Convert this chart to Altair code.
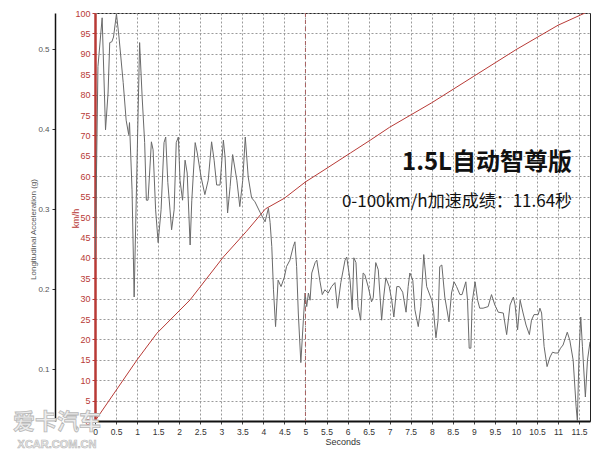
import altair as alt
import pandas as pd

# ---- data ----
t_acc = [0.0, 0.03, 0.07, 0.17, 0.25, 0.31, 0.35, 0.40, 0.44, 0.51, 0.57, 0.67, 0.74, 0.80, 0.82, 0.88, 0.93,
         1.00, 1.06, 1.12, 1.18, 1.22, 1.26, 1.34, 1.38, 1.44, 1.50, 1.57, 1.64, 1.68, 1.73, 1.82, 1.88, 1.93, 1.98,
         2.02, 2.08, 2.14, 2.19, 2.26, 2.30, 2.38, 2.43, 2.52, 2.61, 2.69, 2.77, 2.83, 2.89, 2.97,
         3.05, 3.09, 3.15, 3.21, 3.27, 3.37, 3.44, 3.51, 3.57, 3.64, 3.72, 3.80, 3.92,
         4.04, 4.12, 4.16, 4.20, 4.24, 4.29, 4.35, 4.42, 4.50, 4.55, 4.63, 4.71, 4.75, 4.79, 4.83, 4.89, 4.95, 4.99,
         5.03, 5.07, 5.11, 5.15, 5.23, 5.27, 5.34, 5.40, 5.46, 5.54, 5.62, 5.70, 5.76, 5.84, 5.94, 5.98,
         6.06, 6.11, 6.15, 6.20, 6.25, 6.31, 6.37, 6.41, 6.49, 6.57, 6.61, 6.67, 6.73, 6.81, 6.85, 6.91, 6.99,
         7.05, 7.10, 7.17, 7.23, 7.31, 7.39, 7.44, 7.48, 7.55, 7.60, 7.68, 7.74, 7.81, 7.88,
         8.00, 8.04, 8.10, 8.15, 8.19, 8.24, 8.31, 8.41, 8.47, 8.53, 8.59, 8.67, 8.72, 8.81, 8.85, 8.89, 8.93, 8.96,
         9.03, 9.09, 9.14, 9.22, 9.34, 9.42, 9.50, 9.58, 9.70, 9.78, 9.86, 9.94, 9.98,
         10.04, 10.10, 10.17, 10.24, 10.32, 10.37, 10.43, 10.53, 10.57, 10.61, 10.67, 10.74, 10.81, 10.87, 10.93,
         11.00, 11.06, 11.12, 11.22, 11.28, 11.36, 11.43, 11.46, 11.50, 11.54, 11.58, 11.65, 11.70, 11.76]
g_acc = [0.236, 0.324, 0.478, 0.539, 0.399, 0.445, 0.508, 0.509, 0.515, 0.544, 0.515, 0.458, 0.411, 0.393, 0.408, 0.324, 0.19,
         0.361, 0.508, 0.44, 0.383, 0.311, 0.311, 0.384, 0.374, 0.299, 0.258, 0.299, 0.383, 0.39, 0.333, 0.274, 0.299, 0.383, 0.39,
         0.336, 0.311, 0.361, 0.345, 0.255, 0.311, 0.383, 0.37, 0.34, 0.318, 0.336, 0.384, 0.361, 0.33, 0.33,
         0.386, 0.365, 0.295, 0.328, 0.368, 0.336, 0.303, 0.336, 0.39, 0.34, 0.314, 0.309, 0.296,
         0.284, 0.301, 0.283, 0.253, 0.199, 0.153, 0.211, 0.203, 0.215, 0.228, 0.236, 0.253, 0.259, 0.228, 0.17, 0.108, 0.161, 0.195,
         0.178, 0.195, 0.186, 0.22, 0.233, 0.236, 0.211, 0.193, 0.199, 0.195, 0.203, 0.208, 0.176, 0.208, 0.236, 0.24,
         0.211, 0.174, 0.239, 0.233, 0.178, 0.161, 0.22, 0.218, 0.203, 0.184, 0.189, 0.233, 0.224, 0.161, 0.186, 0.214, 0.203,
         0.186, 0.165, 0.203, 0.203, 0.196, 0.171, 0.203, 0.22, 0.211, 0.174, 0.153, 0.178, 0.243, 0.203,
         0.186, 0.174, 0.139, 0.161, 0.228, 0.23, 0.19, 0.159, 0.195, 0.209, 0.203, 0.193, 0.193, 0.209, 0.186, 0.126, 0.126, 0.183,
         0.209, 0.186, 0.176, 0.176, 0.178, 0.193, 0.18, 0.171, 0.17, 0.143, 0.18, 0.19, 0.18,
         0.149, 0.186, 0.17, 0.155, 0.143, 0.161, 0.168, 0.168, 0.176, 0.17, 0.128, 0.103, 0.115, 0.121, 0.12,
         0.12, 0.126, 0.13, 0.146, 0.136, 0.111, 0.053, 0.035, 0.12, 0.165, 0.128, 0.065, 0.111, 0.134]

t_spd = [0.0, 1.0, 1.47, 2.26, 3.05, 3.6, 4.05, 4.5, 5.0, 5.44, 6.07, 6.55,
         7.0, 8.0, 9.0, 10.0, 10.5, 11.0, 11.64]
v_spd = [0.0, 15.0, 21.5, 29.7, 40.2, 46.5, 52.0, 54.6, 58.6, 61.5, 65.7, 68.9,
         72.0, 78.0, 84.5, 91.0, 94.0, 97.0, 100.0]

x_ticks = [0, 0.5, 1, 1.5, 2, 2.5, 3, 3.5, 4, 4.5, 5, 5.5, 6, 6.5, 7, 7.5, 8, 8.5, 9, 9.5, 10, 10.5, 11, 11.5]
kmh_ticks = [0, 5, 10, 15, 20, 25, 30, 35, 40, 45, 50, 55, 60, 65, 70, 75, 80, 85, 90, 95, 100]
g_ticks = [0.1, 0.2, 0.3, 0.4, 0.5]
marker_t = [5]

title_main = "1.5L自动智尊版"
title_sub = "0-100km/h加速成绩：11.64秒"
wm1 = "爱卡汽车"
wm2 = "XCAR.COM.CN"

RED = "#b83a36"
FONT = "Liberation Sans"
CJK = "Noto Sans CJK SC"

df_acc = pd.DataFrame({"t": t_acc, "g": g_acc})
df_spd = pd.DataFrame({"t": t_spd, "v": v_spd})

xs = alt.Scale(domain=[0, 11.76], nice=False, zero=False)
x_axis = alt.Axis(values=x_ticks, format="~g", title="Seconds", grid=True,
                  gridDash=[2, 2], gridColor="#9a9a9a", gridWidth=1,
                  domainColor="#111", domainWidth=2, tickColor="#444", tickSize=3,
                  labelFont=FONT, labelFontSize=8.5, labelColor="#333", labelPadding=3,
                  labelOverlap=False, labelFlush=False, labelSeparation=0,
                  titleFont=FONT, titleFontSize=9, titleFontWeight="normal",
                  titleColor="#333", titlePadding=2)
x_enc = alt.X("t:Q", scale=xs, axis=x_axis)

speed = alt.Chart(df_spd).mark_line(color=RED, strokeWidth=1, clip=True).encode(
    x=x_enc,
    y=alt.Y("v:Q", scale=alt.Scale(domain=[0, 100], nice=False, zero=False),
            axis=alt.Axis(orient="left", values=kmh_ticks, title="km/h", grid=True,
                          gridDash=[2, 2], gridColor="#9a9a9a", gridWidth=1,
                          domainColor=RED, domainWidth=2.5, tickColor=RED, tickSize=3,
                          labelFont=FONT, labelFontSize=9, labelColor=RED, labelPadding=2,
                          labelOverlap=False,
                          titleFont=FONT, titleFontSize=9, titleFontWeight="normal",
                          titleColor=RED, titleX=-15, titleY=205, titleAngle=270,
                          titleAlign="center", titleBaseline="bottom"))
)

accel = alt.Chart(df_acc).mark_line(color="#6a6a6a", strokeWidth=1, clip=True).encode(
    x=x_enc,
    y=alt.Y("g:Q", scale=alt.Scale(domain=[0.035, 0.545], nice=False, zero=False),
            axis=alt.Axis(orient="left", offset=40, values=g_ticks, format="~g",
                          title="Longitudinal Acceleration (g)", grid=False,
                          domainColor="#111", domainWidth=1.5, tickColor="#333", tickSize=3,
                          labelFont=FONT, labelFontSize=8, labelColor="#555", labelPadding=3,
                          titleFont=FONT, titleFontSize=8, titleFontWeight="normal",
                          titleColor="#555", titleX=-18, titleY=216, titleAngle=270,
                          titleAlign="center", titleBaseline="bottom"))
)

marker = alt.Chart(pd.DataFrame({"t": marker_t})).mark_rule(
    color="#a86060", strokeDash=[4, 3], strokeWidth=1).encode(x=x_enc)

txt1 = alt.Chart(pd.DataFrame({"s": [title_main]})).mark_text(
    font=CJK, fontSize=24, fontWeight="bold", color="#111", align="center", baseline="middle"
).encode(text="s:N", x=alt.value(392), y=alt.value(150))

txt2 = alt.Chart(pd.DataFrame({"s": [title_sub]})).mark_text(
    font=CJK, fontSize=17, color="#111", align="center", baseline="middle"
).encode(text="s:N", x=alt.value(362), y=alt.value(189))

wmA = alt.Chart(pd.DataFrame({"s": [wm1]})).mark_text(
    font=CJK, fontSize=22, fontWeight="bold", color="#ececec", stroke="#b8b8b8", strokeWidth=0.8,
    align="center", baseline="middle"
).encode(text="s:N", x=alt.value(-38), y=alt.value(409))

wmB = alt.Chart(pd.DataFrame({"s": [wm2]})).mark_text(
    font=FONT, fontSize=11, fontWeight="bold", color="#ececec", stroke="#b8b8b8", strokeWidth=0.6,
    align="center", baseline="middle"
).encode(text="s:N", x=alt.value(-38), y=alt.value(432))

chart = alt.layer(speed, accel, marker, txt1, txt2, wmA, wmB).resolve_scale(
    y="independent"
).properties(
    width=495, height=408,
    autosize=alt.AutoSizeParams(type="none"),
    padding={"left": 87, "top": 5, "right": 10, "bottom": 34},
    background="white"
).configure_view(stroke="#222", strokeWidth=1)

chart.save("out.html", embed_options={"renderer": "svg", "actions": False})
